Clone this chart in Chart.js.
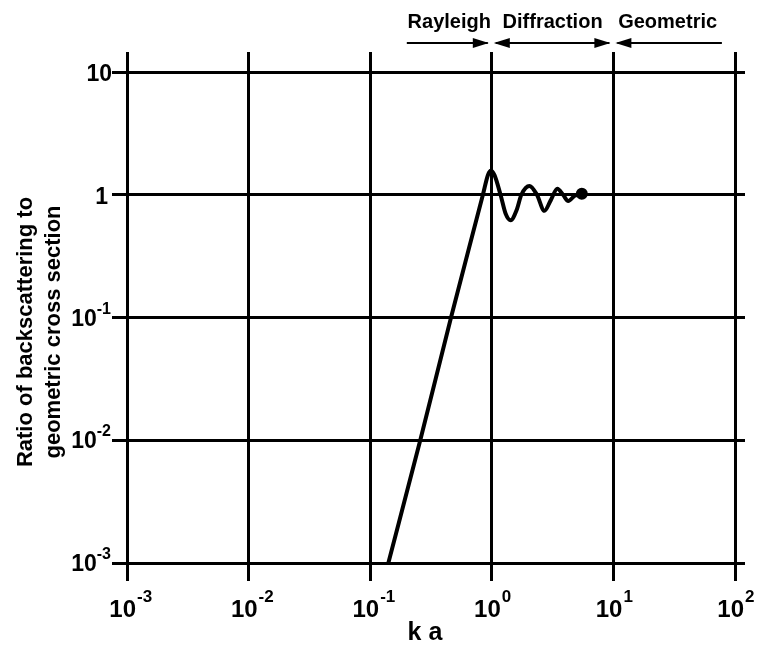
<!DOCTYPE html>
<html lang="en">
<head>
  <meta charset="UTF-8">
  <title>Backscattering ratio vs ka</title>
  <script src="https://cdn.jsdelivr.net/npm/chart.js"></script>
  <style>
    body { margin: 0; background: #fff; }
    #wrap { width: 760px; height: 647px; }
  </style>
</head>
<body>
<div id="wrap"><canvas id="mieChart" width="760" height="647"></canvas></div>

<script>
// tick values and labels (decades)
const xTicks = [1e-3, 1e-2, 1e-1, 1, 10, 100];
const xTickExps = ['-3', '-2', '-1', '0', '1', '2'];
const yTicks = [1e-3, 1e-2, 1e-1, 1, 10];
const yTickBase = ['10', '10', '10', '1', '10'];
const yTickExps = ['-3', '-2', '-1', '', ''];

// curve
const ka = [0.141, 0.258, 0.462, 0.845, 0.93, 0.98, 1.05, 1.18, 1.30, 1.43, 1.60, 1.75,
            2.04, 2.35, 2.71, 3.05, 3.46, 3.85, 4.25, 4.80, 5.50];
const ratio = [0.001, 0.01, 0.1, 1.0, 1.45, 1.57, 1.45, 1.0, 0.70, 0.62, 0.75, 1.0,
               1.18, 1.0, 0.74, 0.90, 1.12, 1.0, 0.89, 0.98, 1.02];

// regimes shown above the plot
const regimes = ['Rayleigh', 'Diffraction', 'Geometric'];
const regimeFrom = [0.2, 1, 10];
const regimeTo = [1, 10, 78];
const headLeft = [false, true, true];
const headRight = [true, true, false];

const FONT = '"Liberation Sans", Arial, sans-serif';

// draw decade labels, regime arrows and titles
const labelsPlugin = {
  id: 'labels',
  afterDraw(chart) {
    const ctx = chart.ctx;
    const xs = chart.scales.x, ys = chart.scales.y;
    ctx.save();
    ctx.fillStyle = '#000';
    ctx.strokeStyle = '#000';
    ctx.textBaseline = 'alphabetic';

    // x tick labels: "10" near the line, exponent to the right
    xTicks.forEach((v, i) => {
      const px = xs.getPixelForValue(v);
      ctx.font = 'bold 24px ' + FONT;
      ctx.textAlign = 'right';
      ctx.fillText('10', px + 9, 617);
      ctx.font = 'bold 17px ' + FONT;
      ctx.textAlign = 'left';
      ctx.fillText(xTickExps[i], px + 10, 602);
    });

    // y tick labels
    yTicks.forEach((v, i) => {
      const py = ys.getPixelForValue(v);
      if (yTickExps[i]) {
        ctx.font = 'bold 16px ' + FONT;
        ctx.textAlign = 'right';
        ctx.fillText(yTickExps[i], 111, py - 4);
        const ew = ctx.measureText(yTickExps[i]).width;
        ctx.font = 'bold 23px ' + FONT;
        ctx.fillText(yTickBase[i], 111 - ew, py + 8);
      } else {
        ctx.font = 'bold 23px ' + FONT;
        ctx.textAlign = 'right';
        ctx.fillText(yTickBase[i], yTickBase[i] === '1' ? 108 : 112, py + 9);
      }
    });

    // regime labels and arrows
    regimes.forEach((name, i) => {
      const x1 = xs.getPixelForValue(regimeFrom[i]);
      const x2 = xs.getPixelForValue(regimeTo[i]);
      const ay = 43;
      ctx.font = 'bold 20px ' + FONT;
      ctx.textAlign = 'center';
      ctx.fillText(name, (x1 + x2) / 2, 28);
      ctx.lineWidth = 2;
      ctx.beginPath();
      ctx.moveTo(x1 + (headLeft[i] ? 4 : 0), ay);
      ctx.lineTo(x2 - (headRight[i] ? 4 : 0), ay);
      ctx.stroke();
      if (headRight[i]) {
        ctx.beginPath();
        ctx.moveTo(x2 - 3, ay);
        ctx.lineTo(x2 - 19, ay - 5);
        ctx.lineTo(x2 - 19, ay + 5);
        ctx.closePath();
        ctx.fill();
      }
      if (headLeft[i]) {
        ctx.beginPath();
        ctx.moveTo(x1 + 2, ay);
        ctx.lineTo(x1 + 18, ay - 5);
        ctx.lineTo(x1 + 18, ay + 5);
        ctx.closePath();
        ctx.fill();
      }
    });

    // axis titles
    ctx.font = 'bold 25px ' + FONT;
    ctx.textAlign = 'center';
    ctx.fillText('k a', 425, 640);

    ctx.font = 'bold 22px ' + FONT;
    ctx.textBaseline = 'middle';
    ctx.save();
    ctx.translate(26, 332);
    ctx.rotate(-Math.PI / 2);
    ctx.fillText('Ratio of backscattering to', 0, 0);
    ctx.restore();
    ctx.save();
    ctx.translate(54, 332);
    ctx.rotate(-Math.PI / 2);
    ctx.fillText('geometric cross section', 0, 0);
    ctx.restore();

    ctx.restore();
  }
};

const decades = (list) => function (scale) {
  scale.ticks = list.map(v => ({ value: v }));
};

const gridStyle = { color: '#000', lineWidth: 3, tickColor: '#000', tickWidth: 3 };

new Chart(document.getElementById('mieChart').getContext('2d'), {
  type: 'line',
  data: {
    datasets: [{
      data: ka.map((k, i) => ({ x: k, y: ratio[i] })),
      borderColor: '#000',
      backgroundColor: '#000',
      borderWidth: 4,
      pointRadius: ctx => ctx.dataIndex === ka.length - 1 ? 4 : 0,
      cubicInterpolationMode: 'monotone',
      fill: false,
      clip: false
    }]
  },
  options: {
    responsive: false,
    animation: false,
    devicePixelRatio: 1,
    layout: { padding: 0 },
    plugins: { legend: { display: false }, tooltip: { enabled: false } },
    scales: {
      x: {
        type: 'logarithmic', position: 'bottom', min: 1e-3, max: 100,
        afterBuildTicks: decades(xTicks),
        afterFit: s => { s.height = 647 - 563; },
        grid: { ...gridStyle, tickLength: 18 },
        border: { display: false },
        ticks: { display: false }
      },
      xTop: {
        type: 'logarithmic', position: 'top', min: 1e-3, max: 100,
        afterBuildTicks: decades(xTicks),
        afterFit: s => { s.height = 72; },
        grid: { ...gridStyle, drawOnChartArea: false, tickLength: 20 },
        border: { display: false },
        ticks: { display: false }
      },
      y: {
        type: 'logarithmic', position: 'left', min: 1e-3, max: 10,
        afterBuildTicks: decades(yTicks),
        afterFit: s => { s.width = 127; },
        grid: { ...gridStyle, tickLength: 15 },
        border: { display: false },
        ticks: { display: false }
      },
      yRight: {
        type: 'logarithmic', position: 'right', min: 1e-3, max: 10,
        afterBuildTicks: decades(yTicks),
        afterFit: s => { s.width = 760 - 735; },
        grid: { ...gridStyle, drawOnChartArea: false, tickLength: 10 },
        border: { display: false },
        ticks: { display: false }
      }
    }
  },
  plugins: [labelsPlugin]
});
</script>
</body>
</html>
